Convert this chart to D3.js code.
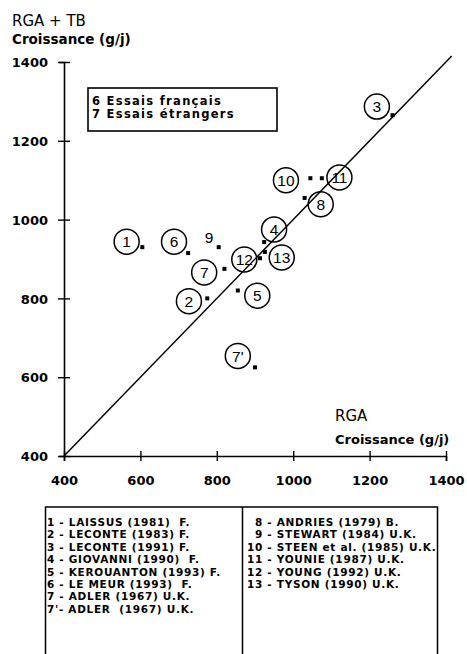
<!DOCTYPE html>
<html>
<head>
<meta charset="utf-8">
<script src="https://d3js.org/d3.v7.min.js"></script>
<style>
  body { margin: 0; background: #fff; }
  svg { display: block; }
</style>
</head>
<body>
<script>
// trial ids, RGA growth (x) and RGA + TB growth (y), g/j
const ids = ['1', '2', '3', '4', '5', '6', '7', "7'", '8', '9', '10', '11', '12', '13']
const rga = [605, 775, 1260, 924, 855, 725, 820, 900, 1030, 805, 1045, 1075, 913, 926]
const rgaTb = [930, 800, 1265, 943, 820, 915, 875, 625, 1055, 930, 1105, 1105, 902, 918]
// where each id label sits, in data units
const labelX = [564, 727, 1219, 950, 906, 688, 767, 855, 1072, 780, 981, 1121, 872, 970]
const labelY = [944, 793, 1287, 975, 807, 944, 866, 654, 1039, 955, 1100, 1107, 899, 904]
const circled = [true, true, true, true, true, true, true, true, true, false, true, true, true, true]

const ticks = [400, 600, 800, 1000, 1200, 1400]
const boxLines = ['6 Essais français', '7 Essais étrangers']

const refLeft = [
  '1 - LAISSUS (1981)  F.',
  '2 - LECONTE (1983) F.',
  '3 - LECONTE (1991) F.',
  '4 - GIOVANNI (1990)  F.',
  '5 - KEROUANTON (1993) F.',
  '6 - LE MEUR (1993)  F.',
  '7 - ADLER (1967) U.K.',
  "7'- ADLER  (1967) U.K.",
]
const refRightNum = ['8', '9', '10', '11', '12', '13']
const refRight = [
  ' - ANDRIES (1979) B.',
  ' - STEWART (1984) U.K.',
  ' - STEEN et al. (1985) U.K.',
  ' - YOUNIE (1987) U.K.',
  ' - YOUNG (1992) U.K.',
  ' - TYSON (1990) U.K.',
]

const width = 467
const height = 654
const font = '"DejaVu Sans", sans-serif'

const svg = d3.select('body').append('svg')
  .attr('viewBox', `0 0 ${width} ${height}`)
  .attr('width', width)
  .attr('height', height)
  .style('background', '#fff')

const x = d3.scaleLinear().domain([400, 1400]).range([64, 446])
const y = d3.scaleLinear().domain([400, 1400]).range([456, 62])

// axes, ticks crossing the line
svg.append('g')
    .attr('transform', `translate(${x(400)},0)`)
    .call(d3.axisLeft(y).tickValues(ticks).tickFormat(d3.format('d')).tickSizeOuter(0).tickSize(5))
    .call(g => g.selectAll('.tick line').attr('x1', -6).attr('x2', 6))
    .call(g => g.selectAll('.tick text')
      .attr('x', -16).attr('dy', '0.36em')
      .style('font', `bold 13px ${font}`))

svg.append('g')
    .attr('transform', `translate(0,${y(400)})`)
    .call(d3.axisBottom(x).tickValues(ticks).tickFormat(d3.format('d')).tickSizeOuter(0).tickSize(5))
    .call(g => g.selectAll('.tick line').attr('y1', -5).attr('y2', 5))
    .call(g => g.selectAll('.tick text')
      .attr('y', 29).attr('dy', 0)
      .style('font', `bold 13px ${font}`))

svg.selectAll('.domain').attr('stroke-width', 1.6)
svg.selectAll('.tick line').attr('stroke-width', 1.4)

// axis titles
svg.append('text').attr('x', 12).attr('y', 26)
  .style('font', `15px ${font}`).text('RGA + TB')
svg.append('text').attr('x', 12).attr('y', 44)
  .style('font', `bold 13.5px ${font}`).text('Croissance (g/j)')
svg.append('text').attr('x', 335).attr('y', 421)
  .style('font', `15px ${font}`).text('RGA')
svg.append('text').attr('x', 335).attr('y', 444)
  .style('font', `bold 13px ${font}`).text('Croissance (g/j)')

// y = x line
svg.append('line')
  .attr('x1', x(400)).attr('y1', y(400))
  .attr('x2', x(1415)).attr('y2', y(1415))
  .attr('stroke', '#000').attr('stroke-width', 1.5)

// legend box
svg.append('rect')
  .attr('x', 88).attr('y', 88).attr('width', 189).attr('height', 43)
  .attr('fill', 'none').attr('stroke', '#000').attr('stroke-width', 1.6)
svg.append('g').selectAll('text')
  .data(boxLines)
  .join('text')
    .attr('x', 92).attr('y', (d, i) => 105 + i * 13.4)
    .style('font', `bold 11.5px ${font}`)
    .style('letter-spacing', '1.3px')
    .text(d => d)

// points
const idx = d3.range(ids.length)
svg.append('g').selectAll('rect')
  .data(idx)
  .join('rect')
    .attr('x', i => x(rga[i]) - 2)
    .attr('y', i => y(rgaTb[i]) - 2)
    .attr('width', 4).attr('height', 4)
    .attr('fill', '#000')

const lab = svg.append('g').selectAll('g')
  .data(idx)
  .join('g')
    .attr('transform', i => `translate(${x(labelX[i])},${y(labelY[i])})`)

lab.filter(i => circled[i]).append('circle')
  .attr('r', 12.5)
  .attr('fill', 'none')
  .attr('stroke', '#000')
  .attr('stroke-width', 1.5)

lab.append('text')
  .attr('text-anchor', 'middle')
  .attr('dy', '0.36em')
  .style('font', '15.5px "Liberation Sans", Arial, sans-serif')
  .text(i => ids[i])

// reference table
const tableTop = 507
const rowGap = 12.4
svg.append('path')
  .attr('d', `M45.5,${height} V${tableTop} H437.5 V${height} M242.5,${tableTop} V${height}`)
  .attr('fill', 'none').attr('stroke', '#000').attr('stroke-width', 1.5)

svg.append('g').selectAll('text')
  .data(refLeft)
  .join('text')
    .attr('x', 47).attr('y', (d, i) => 526 + i * rowGap)
    .style('white-space', 'pre')
    .style('font', `bold 10.5px ${font}`)
    .style('letter-spacing', '0.7px')
    .text(d => d)

const right = svg.append('g').selectAll('text')
  .data(refRight)
  .join('text')
    .attr('y', (d, i) => 526 + i * rowGap)
    .style('font', `bold 10.5px ${font}`)
    .style('letter-spacing', '0.7px')
right.append('tspan')
  .attr('x', 263).attr('text-anchor', 'end')
  .text((d, i) => refRightNum[i])
right.append('tspan')
  .attr('x', 263)
  .style('white-space', 'pre')
  .text(d => d)
</script>
</body>
</html>
